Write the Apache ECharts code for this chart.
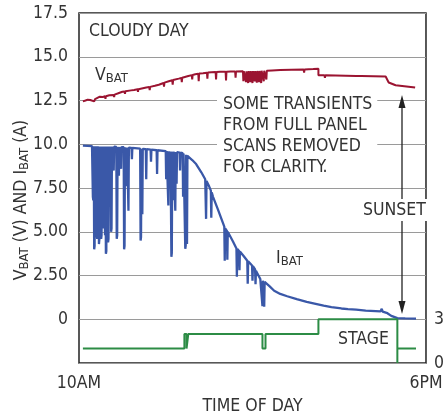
<!DOCTYPE html>
<html><head><meta charset="utf-8">
<script src="https://cdn.jsdelivr.net/npm/echarts@6/dist/echarts.min.js"></script>
<style>html,body{margin:0;padding:0;background:#fff}#c{width:447px;height:420px}</style>
</head><body><div id="c"></div>
<script>
const FONT = "'Liberation Sans Narrow','DejaVu Sans Condensed','Roboto Condensed','Liberation Sans',sans-serif";
const TXT = '#333';

// x axis: hours of the day
const xTickValues = [10, 18];
const xTickText = ['10AM', '6PM'];
// left axis
const leftTickValues = [0, 2.5, 5, 7.5, 10, 12.5, 15, 17.5];
const leftTickText = ['0', '2.50', '5.00', '7.50', '10.0', '12.5', '15.0', '17.5'];
// right axis (stage)
const rightTickValues = [0, 3];
const rightTickText = ['0', '3'];

// VBAT (V) : [hour, volts]
const vbat = [
  [10.09,12.45],[10.12,12.52],[10.15,12.50],[10.20,12.55],[10.26,12.53],[10.30,12.56],[10.35,12.45],[10.37,12.58],
  [10.48,12.72],[10.55,12.70],[10.60,12.74],[10.61,12.60],[10.62,12.74],[10.70,12.80],[10.80,12.82],[10.81,12.70],
  [10.82,12.84],[10.89,12.90],[11.00,13.00],[11.05,13.02],[11.06,12.88],[11.07,13.03],[11.20,13.08],[11.27,13.10],
  [11.35,13.14],[11.36,13.00],[11.37,13.15],[11.55,13.24],[11.62,13.27],[11.63,13.10],[11.64,13.28],[11.75,13.34],
  [11.84,13.40],[11.95,13.50],[11.96,13.30],[11.97,13.52],[12.07,13.60],[12.15,13.66],[12.16,13.40],[12.17,13.67],
  [12.30,13.75],[12.36,13.79],[12.37,13.55],[12.38,13.80],[12.52,13.90],[12.60,13.95],[12.61,13.70],[12.62,13.96],
  [12.68,14.00],[12.75,14.03],[12.76,13.60],[12.77,14.04],[12.86,14.06],[12.95,14.09],[12.96,13.75],[12.97,14.10],
  [13.05,14.12],[13.15,14.13],[13.16,13.70],[13.17,14.13],[13.25,14.14],[13.38,14.15],[13.39,13.65],[13.40,14.15],
  [13.50,14.16],[13.60,14.16],[13.61,13.80],[13.62,14.16],[13.78,14.17],[13.79,13.60],[13.80,14.17],[13.84,14.17],
  [13.85,13.55],[13.86,14.17],[13.89,14.17],[13.90,13.50],[13.91,14.18],[13.94,14.18],[13.95,13.55],[13.96,14.18],
  [13.99,14.18],[14.00,13.50],[14.01,14.18],[14.04,14.18],[14.05,13.60],[14.06,14.18],[14.09,14.19],[14.10,13.52],
  [14.11,14.19],[14.14,14.19],[14.15,13.55],[14.16,14.19],[14.19,14.20],[14.20,13.50],[14.21,14.20],[14.25,14.20],
  [14.26,13.60],[14.27,14.20],[14.31,14.20],[14.32,13.70],[14.33,14.20],[14.45,14.22],[14.64,14.25],[14.90,14.26],
  [15.18,14.27],[15.19,14.10],[15.20,14.27],[15.40,14.30],[15.52,14.32],[15.52,13.94],[15.66,13.94],[15.67,13.80],
  [15.68,13.94],[16.39,13.90],[16.51,13.90],[16.52,13.80],[16.53,13.90],[17.07,13.87],[17.14,13.53],[17.30,13.37],
  [17.75,13.24]
];

// IBAT (A) : [hour, amps]
const ibat = [
  [10.09,9.92],[10.30,9.90],[10.31,9.89],[10.32,7.00],[10.33,6.80],[10.34,9.89],[10.35,4.00],[10.36,4.20],
  [10.37,9.89],[10.38,6.50],[10.39,5.00],[10.40,9.89],[10.41,4.80],[10.42,4.60],[10.43,9.89],[10.44,7.00],
  [10.45,9.88],[10.46,4.30],[10.47,4.60],[10.48,9.88],[10.49,5.50],[10.50,9.88],[10.51,4.60],[10.52,4.80],
  [10.53,9.88],[10.54,6.00],[10.55,9.88],[10.56,5.50],[10.57,5.20],[10.58,9.88],[10.59,9.88],[10.60,4.80],
  [10.61,9.88],[10.62,3.74],[10.63,3.90],[10.64,9.88],[10.65,5.00],[10.66,9.88],[10.67,4.40],[10.68,4.60],
  [10.69,9.87],[10.71,9.87],[10.72,6.50],[10.73,9.87],[10.74,5.00],[10.75,5.20],[10.76,9.87],[10.79,9.86],
  [10.80,8.50],[10.81,9.86],[10.86,9.85],[10.87,4.60],[10.88,4.80],[10.89,9.85],[10.91,9.85],[10.92,8.20],
  [10.93,9.85],[10.96,9.84],[10.97,8.60],[10.98,9.84],[11.03,9.83],[11.04,4.00],[11.05,4.20],[11.06,9.83],
  [11.09,9.82],[11.10,7.60],[11.11,9.82],[11.13,9.81],[11.14,6.20],[11.15,9.81],[11.21,9.80],[11.22,9.15],
  [11.23,9.80],[11.41,9.75],[11.42,4.50],[11.43,4.70],[11.44,9.75],[11.45,9.74],[11.46,6.00],[11.47,9.74],
  [11.54,9.72],[11.55,8.00],[11.56,9.72],[11.65,9.70],[11.66,9.00],[11.67,9.70],[11.79,9.66],[11.80,8.30],
  [11.81,9.66],[12.00,9.61],[12.01,8.00],[12.02,9.61],[12.05,9.60],[12.06,6.50],[12.07,9.60],[12.09,9.59],
  [12.10,7.50],[12.11,9.59],[12.12,9.59],[12.13,3.57],[12.14,3.80],[12.15,9.58],[12.16,9.58],[12.17,6.80],
  [12.18,9.58],[12.21,9.57],[12.22,6.20],[12.23,9.56],[12.24,9.56],[12.25,7.75],[12.26,9.55],[12.32,9.53],
  [12.33,8.50],[12.34,9.52],[12.39,9.49],[12.40,7.00],[12.41,9.47],[12.44,9.44],[12.45,4.03],[12.46,4.20],
  [12.47,9.40],[12.48,9.38],[12.49,4.30],[12.50,9.34],[12.52,9.30],
  [12.61,9.10],[12.70,8.87],[12.82,8.40],[12.91,8.00],[12.92,7.95],[12.93,5.74],[12.94,7.90],[13.00,7.60],
  [13.04,7.35],[13.05,5.80],[13.06,7.25],[13.09,7.00],[13.20,6.30],[13.32,5.50],[13.35,5.30],[13.36,3.35],
  [13.37,5.20],[13.41,5.05],[13.42,3.40],[13.43,5.00],[13.55,4.45],[13.63,4.05],[13.64,2.43],[13.65,4.02],
  [13.69,3.90],[13.70,2.80],[13.71,3.87],[13.80,3.60],[13.88,3.35],[13.89,2.03],[13.90,3.32],[13.99,3.08],
  [14.00,2.20],[14.01,3.04],[14.06,2.85],[14.07,2.00],[14.08,2.78],[14.18,2.30],[14.22,2.24],[14.23,0.75],
  [14.24,2.21],[14.26,2.18],[14.27,0.72],[14.28,2.14],[14.30,2.10],[14.39,1.90],[14.50,1.63],[14.64,1.45],
  [14.80,1.32],[15.02,1.15],[15.25,1.00],[15.43,0.90],[15.64,0.78],[15.82,0.70],[16.05,0.62],[16.20,0.58],
  [16.39,0.55],[16.61,0.50],[16.84,0.47],[16.95,0.45],[16.98,0.60],[17.00,0.44],[17.11,0.35],[17.20,0.20],
  [17.34,0.07],[17.52,0.05],[17.77,0.04]
];

// charger stage : [hour, stage]
const stage = [
  [10.09,1],[12.43,1],[12.43,2],[12.48,2],[12.48,1],[12.52,1],[12.52,2],[14.23,2],[14.23,1],
  [14.30,1],[14.30,2],[15.52,2],[15.52,3],[17.34,3],[17.34,0],[17.34,1],[17.77,1]
];

function pick(vals, texts, v) {
  for (let i = 0; i < vals.length; i++) if (Math.abs(vals[i] - v) < 1e-6) return texts[i];
  return '';
}

const chart = echarts.init(document.getElementById('c'), null, {renderer: 'canvas'});
const FS = 17.5;
const tStyle = {fontFamily: FONT, fontSize: FS, fill: TXT};
const sub = {fontFamily: FONT, fontSize: 13, lineHeight: 8, verticalAlign: 'bottom', fill: TXT, color: TXT};
const main = {fontFamily: FONT, fontSize: FS, lineHeight: 20, fill: TXT, color: TXT};

chart.setOption({
  animation: false,
  backgroundColor: '#fff',
  grid: {left: 79, top: 13, right: 16, bottom: 56, show: true, borderColor: '#222', borderWidth: 1.5, backgroundColor: 'transparent'},
  xAxis: {
    type: 'value', min: 10, max: 18, interval: 2,
    name: 'TIME OF DAY', nameLocation: 'middle', nameGap: 33,
    nameTextStyle: {fontFamily: FONT, fontSize: FS, color: TXT},
    axisLine: {show: false}, axisTick: {show: false}, splitLine: {show: false},
    axisLabel: {margin: 11, fontFamily: FONT, fontSize: FS, color: TXT,
      formatter: v => pick(xTickValues, xTickText, v), showMaxLabel: true, showMinLabel: true}
  },
  yAxis: [{
    type: 'value', min: -2.5, max: 17.5, interval: 2.5,
    axisLine: {show: false}, axisTick: {show: false},
    splitLine: {show: true, lineStyle: {color: '#9a9a9a', width: 1.2}},
    axisLabel: {margin: 11, fontFamily: FONT, fontSize: FS, color: TXT,
      formatter: v => pick(leftTickValues, leftTickText, v)}
  }, {
    type: 'value', min: 0, max: 24, interval: 3, position: 'right',
    axisLine: {show: false}, axisTick: {show: false}, splitLine: {show: false},
    axisLabel: {margin: 8, fontFamily: FONT, fontSize: FS, color: TXT,
      formatter: v => pick(rightTickValues, rightTickText, v)}
  }],
  series: [
    {name: 'VBAT', type: 'line', data: vbat, symbol: 'none', z: 3,
     lineStyle: {color: '#9b1431', width: 2}},
    {name: 'IBAT', type: 'line', data: ibat, symbol: 'none', z: 3,
     lineStyle: {color: '#3a58a8', width: 2.3}},
    {name: 'STAGE', type: 'line', yAxisIndex: 1, data: stage, symbol: 'none', z: 3,
     lineStyle: {color: '#2c8c45', width: 2}}
  ],
  graphic: [
    {type: 'text', x: 21, y: 200, rotation: Math.PI / 2, z: 100,
     style: {text: '{m|V}{s|BAT}{m| (V) AND I}{s|BAT}{m| (A)}', align: 'center', verticalAlign: 'middle',
       rich: {m: main, s: sub}}},
    {type: 'text', x: 89, y: 31, z: 100,
     style: Object.assign({text: 'CLOUDY DAY', verticalAlign: 'middle'}, tStyle)},
    {type: 'text', x: 95, y: 75, z: 100,
     style: {text: '{m|V}{s|BAT}', verticalAlign: 'middle', rich: {m: main, s: sub}}},
    {type: 'text', x: 276, y: 258, z: 100,
     style: {text: '{m|I}{s|BAT}', verticalAlign: 'middle', rich: {m: main, s: sub}}},
    {type: 'text', x: 217, y: 94, z: 100,
     style: Object.assign({text: 'SOME TRANSIENTS\nFROM FULL PANEL\nSCANS REMOVED\nFOR CLARITY.',
       lineHeight: 21, backgroundColor: '#fff', padding: [0, 5, 0, 6]}, tStyle)},
    {type: 'text', x: 360, y: 210, z: 100,
     style: Object.assign({text: 'SUNSET', verticalAlign: 'middle', backgroundColor: '#fff', padding: [2, 3, 2, 3]}, tStyle)},
    {type: 'text', x: 338, y: 339, z: 100,
     style: Object.assign({text: 'STAGE', verticalAlign: 'middle'}, tStyle)},
    // sunset arrows
    {type: 'line', z: 99, shape: {x1: 402, y1: 105, x2: 402, y2: 200}, style: {stroke: '#222', lineWidth: 1.3}},
    {type: 'polygon', z: 99, shape: {points: [[402, 95], [398.5, 108], [405.5, 108]]}, style: {fill: '#222'}},
    {type: 'line', z: 99, shape: {x1: 402, y1: 221, x2: 402, y2: 304}, style: {stroke: '#222', lineWidth: 1.3}},
    {type: 'polygon', z: 99, shape: {points: [[402, 314], [398.5, 301], [405.5, 301]]}, style: {fill: '#222'}}
  ]
});
</script></body></html>
